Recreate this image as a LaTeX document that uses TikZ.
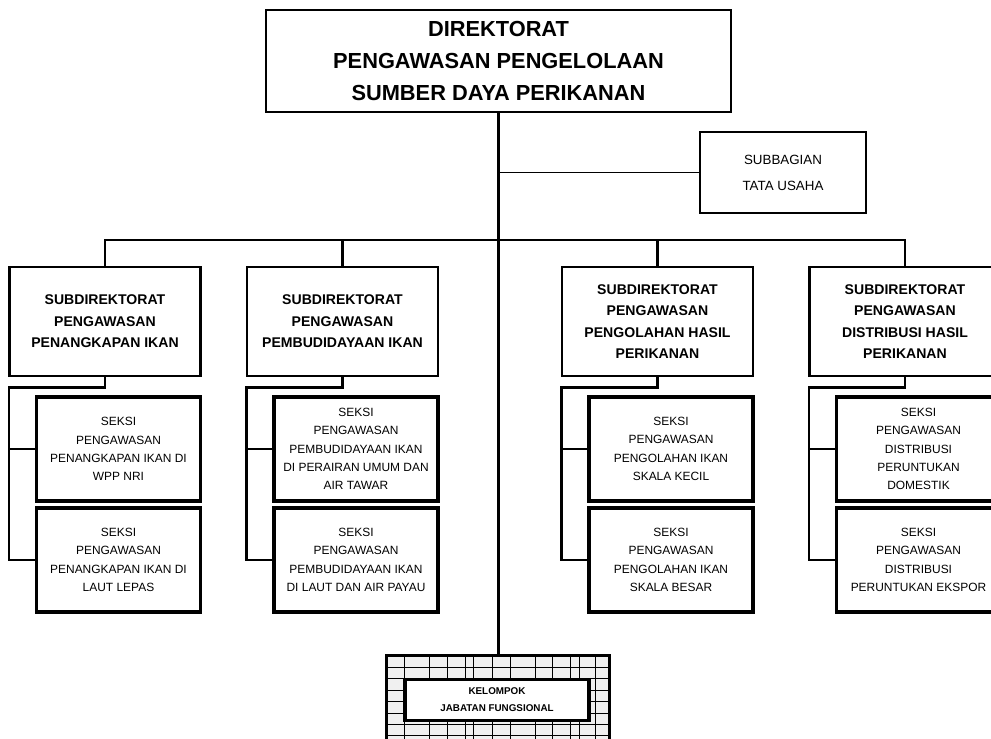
\documentclass[tikz,border=0pt]{standalone}
\usepackage{fontspec}
\setmainfont{Liberation Sans}
\usetikzlibrary{positioning,calc}
\tikzset{
  dirbox/.style={
    rectangle, draw=black, line width=1.2pt, fill=white,
    minimum width=11.625cm, minimum height=2.55cm,
    font=\fontsize{15.5}{22.7}\selectfont\bfseries, align=center,
    inner sep=0pt
  },
  tubox/.style={
    rectangle, draw=black, line width=1.6pt, fill=white,
    minimum width=4.15cm, minimum height=2.025cm,
    font=\fontsize{9.5}{18.5}\selectfont, align=center,
    inner sep=0pt
  },
  subbox/.style={
    rectangle, draw=black, line width=1.8pt, fill=white,
    minimum width=4.775cm, minimum height=2.725cm,
    font=\fontsize{10}{15.3}\selectfont\bfseries, align=center,
    inner sep=0pt
  },
  seksibox/.style={
    rectangle, draw=black, line width=2.2pt, fill=white,
    minimum width=4.1cm, minimum height=2.6cm,
    font=\fontsize{8.5}{13}\selectfont, align=center,
    inner sep=0pt
  },
  kelbox/.style={
    rectangle, draw=black, line width=1.4pt, fill=gray!12,
    minimum width=5.55cm, minimum height=2.6cm, inner sep=0pt
  },
  kelinner/.style={
    rectangle, draw=black, line width=2.2pt, fill=white,
    minimum width=4.6cm, minimum height=1.025cm,
    font=\fontsize{7}{12}\selectfont\bfseries, align=center,
    inner sep=0pt
  },
  link/.style={line width=2pt, color=black},
  thinlink/.style={line width=1.1pt, color=black},
  gridline/.style={line width=0.6pt, color=black},
}

\begin{document}
\begin{tikzpicture}[x=0.025cm, y=-0.025cm]
  \clip (0,0) rectangle (991,738);
  % top level
  \node[dirbox] (dir) at (498.5,61) {DIREKTORAT\\PENGAWASAN PENGELOLAAN\\SUMBER DAYA PERIKANAN};
  \node[tubox] (tu) at (783,172.5) {SUBBAGIAN\\TATA USAHA};
  % subdirektorat
  \node[subbox] (sub1) at (105,321.5) {SUBDIREKTORAT\\PENGAWASAN\\PENANGKAPAN IKAN};
  \node[subbox] (sub2) at (342.5,321.5) {SUBDIREKTORAT\\PENGAWASAN\\PEMBUDIDAYAAN IKAN};
  \node[subbox] (sub3) at (657.5,321.5) {SUBDIREKTORAT\\PENGAWASAN\\PENGOLAHAN HASIL\\PERIKANAN};
  \node[subbox] (sub4) at (905,321.5) {SUBDIREKTORAT\\PENGAWASAN\\DISTRIBUSI HASIL\\PERIKANAN};
  % seksi
  \node[seksibox] (sek11) at (118.5,449) {SEKSI\\PENGAWASAN\\PENANGKAPAN IKAN DI\\WPP NRI};
  \node[seksibox] (sek12) at (118.5,560) {SEKSI\\PENGAWASAN\\PENANGKAPAN IKAN DI\\LAUT LEPAS};
  \node[seksibox] (sek21) at (356,449) {SEKSI\\PENGAWASAN\\PEMBUDIDAYAAN IKAN\\DI PERAIRAN UMUM DAN\\AIR TAWAR};
  \node[seksibox] (sek22) at (356,560) {SEKSI\\PENGAWASAN\\PEMBUDIDAYAAN IKAN\\DI LAUT DAN AIR PAYAU};
  \node[seksibox] (sek31) at (671,449) {SEKSI\\PENGAWASAN\\PENGOLAHAN IKAN\\SKALA KECIL};
  \node[seksibox] (sek32) at (671,560) {SEKSI\\PENGAWASAN\\PENGOLAHAN IKAN\\SKALA BESAR};
  \node[seksibox] (sek41) at (918.5,449) {SEKSI\\PENGAWASAN\\DISTRIBUSI\\PERUNTUKAN\\DOMESTIK};
  \node[seksibox] (sek42) at (918.5,560) {SEKSI\\PENGAWASAN\\DISTRIBUSI\\PERUNTUKAN EKSPOR};
  % kelompok jabatan fungsional
  \node[kelbox] (kelout) at (498,708) {};
  \begin{scope}
    \clip (kelout.south west) rectangle (kelout.north east);
    \foreach \gx in {404,429,447,465,473,492,510,535,552,570,579,595}
      \draw[gridline] (\gx,650) -- (\gx,770);
    \foreach \gy in {667,678,690,701,713,724,735}
      \draw[gridline] (380,\gy) -- (620,\gy);
  \end{scope}
  \draw[line width=1.4pt] (kelout.south west) rectangle (kelout.north east);
  \node[kelinner] (kel) at (497,700) {KELOMPOK\\JABATAN FUNGSIONAL};
  % connectors
  \coordinate (bus) at (dir.south |- 0,240);
  \draw[link] (dir.south) -- (dir.south |- kelout.north);
  \draw[thinlink] (tu.west) -- (dir.south |- tu.west);
  \draw[link] (sub1.north) |- (bus) -| (sub4.north);
  \draw[link] (sub2.north) -- (sub2.north |- bus);
  \draw[link] (sub3.north) -- (sub3.north |- bus);
  \foreach \i in {1,2,3,4}{
    \draw[link] (sub\i.south) -- ++(0,10) -| ($(sek\i2.west)+(-26,0)$) -- (sek\i2.west);
    \draw[thinlink] (sek\i1.west) -- ++(-26,0);
  }
\end{tikzpicture}
\end{document}
